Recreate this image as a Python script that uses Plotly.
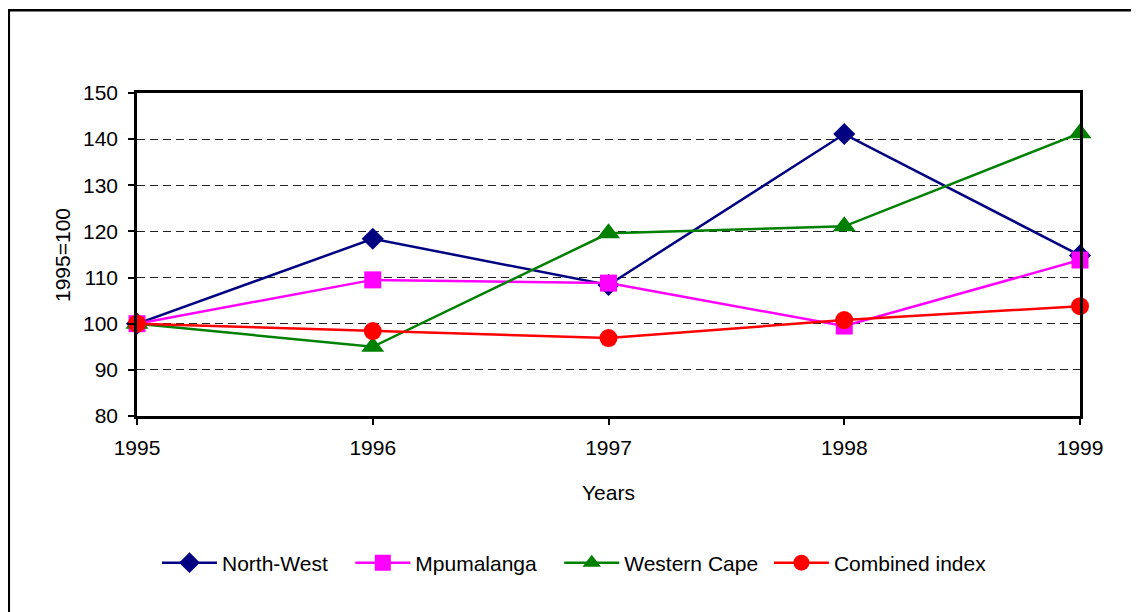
import plotly.graph_objects as go

years = [1995, 1996, 1997, 1998, 1999]
north_west = [100, 118.4, 108.4, 141.1, 114.8]
mpumalanga = [100, 109.5, 108.8, 99.5, 113.8]
western_cape = [100, 95.0, 119.6, 121.1, 141.3]
combined = [100, 98.4, 96.9, 100.8, 103.8]

NB = "\u00a0"
series = [
    ("North-West", north_west, "#000080", "diamond", 17, 3),
    ("Mpumalanga", mpumalanga, "#FF00FF", "square", 17, 3),
    ("Western Cape", western_cape, "#008000", "triangle-up", 20, 1),
    ("Combined index", combined, "#FF0000", "circle", 18, 0),
]

OFF = 8  # page body margin
W, H = 1139 - OFF, 612 - OFF
L, R, T, B = 137 - OFF, 1080 - OFF, 93 - OFF, 416 - OFF
PW, PH = R - L, B - T


def px(x):
    return (x - OFF - L) / PW


def py(y):
    return (B - (y - OFF)) / PH


fig = go.Figure()
for name, vals, col, sym, sz, pad in series:
    fig.add_trace(go.Scatter(
        x=years, y=vals, name=name + NB * pad, mode="lines+markers",
        line=dict(color=col, width=2.5),
        marker=dict(symbol=sym, size=sz, color=col, line=dict(width=0)),
        cliponaxis=False,
    ))

font = "Liberation Sans, Arial, sans-serif"
fig.update_layout(
    width=W, height=H,
    margin=dict(l=L, r=W - R, t=T, b=H - B, pad=0),
    paper_bgcolor="white", plot_bgcolor="white",
    font=dict(family=font, size=21, color="black"),
    showlegend=True,
    legend=dict(orientation="h", x=px(157), xanchor="left",
                y=py(563), yanchor="middle",
                font=dict(size=21), itemwidth=55,
                tracegroupgap=0),
    xaxis=dict(range=[1995, 1999], tickvals=years, ticktext=[str(y) for y in years],
               showgrid=False, zeroline=False, showline=True, linecolor="black",
               linewidth=2.5, mirror=True, ticks="outside", ticklen=6, tickwidth=2,
               tickcolor="black", ticklabelstandoff=5,
               tickfont=dict(size=21)),
    yaxis=dict(range=[80, 150], tickvals=[80, 90, 100, 110, 120, 130, 140, 150],
               showgrid=True, gridcolor="#222222", gridwidth=1, griddash="8px,5px",
               zeroline=False, showline=True, linecolor="black", linewidth=2.5,
               mirror=True, ticks="outside", ticklen=6, tickwidth=2,
               tickcolor="black", ticklabelstandoff=6,
               tickfont=dict(size=21)),
    annotations=[
        dict(text="Years", x=px(608), y=py(492),
             xref="paper", yref="paper", showarrow=False, font=dict(size=21),
             xanchor="center", yanchor="middle"),
        dict(text="1995=100", x=px(62), y=py(255),
             xref="paper", yref="paper", showarrow=False, font=dict(size=21),
             textangle=-90, xanchor="center", yanchor="middle"),
    ],
    shapes=[
        dict(type="rect", xref="paper", yref="paper",
             x0=px(8.8), x1=px(1200),
             y0=py(700), y1=py(10.3),
             line=dict(color="black", width=2.5), fillcolor="rgba(0,0,0,0)",
             layer="below"),
    ],
)

fig.write_html("out.html")
